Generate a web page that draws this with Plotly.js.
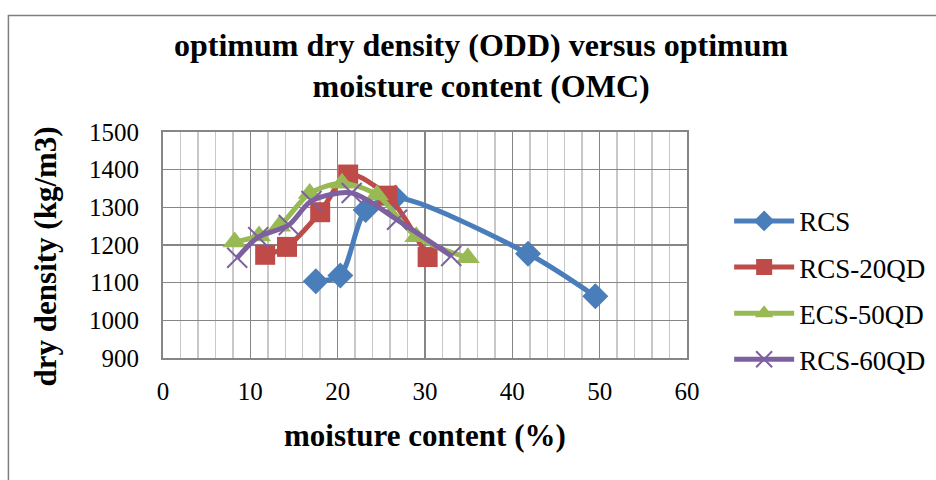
<!DOCTYPE html>
<html>
<head>
<meta charset="utf-8">
<script src="https://cdn.plot.ly/plotly-3.0.1.min.js"></script>
<style>html,body{margin:0;padding:0;background:#fff;}#chart{width:936px;height:480px;}</style>
</head>
<body>
<div id="chart"></div>
<script>
const seriesNames = ["RCS", "RCS-20QD", "ECS-50QD", "RCS-60QD"];
const rcsX = [17.5, 20.3, 23.2, 26.6, 41.8, 49.5];
const rcsY = [1104, 1119, 1293, 1326, 1177, 1064];
const rcs20X = [11.7, 14.2, 18.0, 21.2, 25.7, 30.3];
const rcs20Y = [1174, 1195, 1287, 1387, 1331, 1168];
const ecs50X = [8.2, 11.0, 13.3, 16.8, 20.5, 24.5, 29.0, 34.9];
const ecs50Y = [1208, 1224, 1250, 1337, 1364, 1333, 1222, 1166];
const rcs60X = [8.5, 10.9, 14.4, 17.0, 21.6, 26.8, 33.0];
const rcs60Y = [1166, 1221, 1253, 1317, 1338, 1267, 1171];
const xTicks = [0, 10, 20, 30, 40, 50, 60];
const yTicks = [900, 1000, 1100, 1200, 1300, 1400, 1500];

const colors = ["#4a7ebb", "#be4b48", "#98b954", "#7d60a0"];
const symbols = ["diamond", "square", "triangle-up", "x-thin"];
const sizes = [20, 20, 21, 20];
const xs = [rcsX, rcs20X, ecs50X, rcs60X];
const ys = [rcsY, rcs20Y, ecs50Y, rcs60Y];

const traces = seriesNames.map((n, i) => ({
  type: "scatter", mode: "lines+markers", name: n, legendgroup: n,
  x: xs[i], y: ys[i],
  line: {color: colors[i], width: 5, shape: "spline", smoothing: 0.8},
  marker: {symbol: symbols[i], size: sizes[i], color: colors[i],
           line: {color: colors[i], width: i === 3 ? 2 : 0}}
}));

const fontFam = "Liberation Serif, Times New Roman, serif";
const layout = {
  width: 936, height: 480,
  margin: {l: 163, r: 249, t: 132, b: 122, autoexpand: false},
  paper_bgcolor: "#ffffff", plot_bgcolor: "#ffffff",
  showlegend: true,
  title: {text: "<b>optimum dry density (ODD) versus optimum<br>moisture content (OMC)</b>",
          font: {family: fontFam, size: 32, color: "#000"},
          x: 0.514, xanchor: "center", xref: "container", y: 0.884, yanchor: "top"},
  xaxis: {range: [0, 60], tickvals: xTicks, ticktext: xTicks.map(String),
          showgrid: true, gridcolor: "#868686", gridwidth: 1.5,
          minor: {dtick: 2, showgrid: true, gridcolor: "#c8c8c8", gridwidth: 1.5},
          showline: true, linecolor: "#868686", linewidth: 2, mirror: true,
          zeroline: false, ticks: "", ticklabelstandoff: 10,
          tickfont: {family: fontFam, size: 25, color: "#000"}},
  yaxis: {range: [900, 1500], tickvals: yTicks, ticktext: yTicks.map(String),
          showgrid: true, gridcolor: "#868686", gridwidth: 1.5,
          showline: true, linecolor: "#868686", linewidth: 2, mirror: true,
          zeroline: false, ticks: "", ticklabelstandoff: 17,
          tickfont: {family: fontFam, size: 25, color: "#000"}},
  annotations: [
    {text: "<b>moisture content (%)</b>", xref: "paper", yref: "paper", x: 0.5, y: -0.345,
     xanchor: "center", yanchor: "middle", showarrow: false,
     font: {family: fontFam, size: 31, color: "#000"}},
    {text: "<b>dry density (kg/m3)</b>", xref: "paper", yref: "paper", x: -0.225, y: 0.45,
     xanchor: "center", yanchor: "middle", showarrow: false, textangle: -90,
     font: {family: fontFam, size: 31, color: "#000"}}
  ],
  legend: {x: 0.779, xanchor: "left", xref: "container", y: 0.395, yanchor: "middle", yref: "container",
           font: {family: fontFam, size: 27, color: "#000"},
           itemwidth: 60, tracegroupgap: 8, bgcolor: "rgba(0,0,0,0)"},
  shapes: [{type: "rect", xref: "paper", yref: "paper", x0: -0.295, x1: 2, y0: -1, y1: 1.515,
            line: {color: "#7f7f7f", width: 1.5}, fillcolor: "rgba(0,0,0,0)", layer: "below"}]
};
Plotly.newPlot("chart", traces, layout, {displayModeBar: false, staticPlot: true});
</script>
</body>
</html>
